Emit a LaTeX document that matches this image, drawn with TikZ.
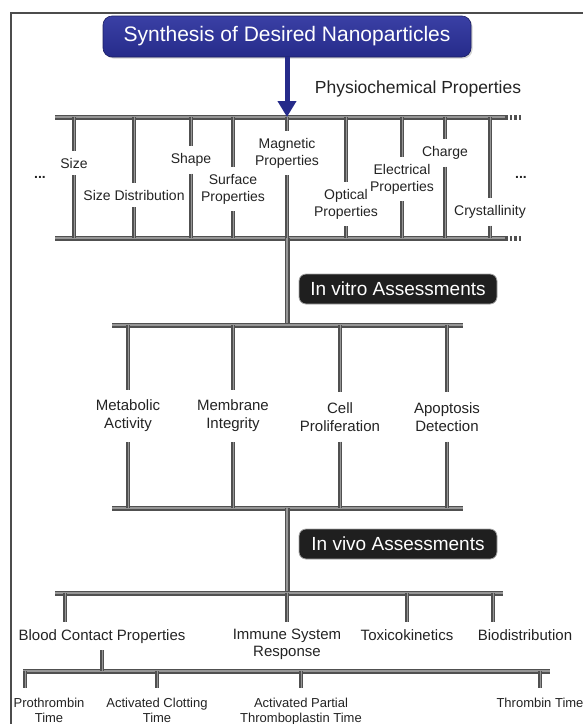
\documentclass[tikz,border=0pt]{standalone}
\usepackage{fontspec}
\setmainfont{Liberation Sans}
\usepackage{xcolor}
\usepackage{tikz}
\usetikzlibrary{arrows.meta, positioning, shadows}

\definecolor{navy}{RGB}{38,43,138}
\definecolor{navylight}{RGB}{58,64,165}
\definecolor{bargray}{RGB}{80,80,80}
\definecolor{barlight}{RGB}{150,150,150}
\definecolor{txtgray}{RGB}{35,35,35}

\begin{document}
\begin{tikzpicture}[x=1pt, y=-1pt, >=Triangle,
    bar/.style={line width=5pt, draw=bargray, postaction={draw=barlight, line width=1.2pt}},
    rung/.style={line width=4pt, draw=bargray, postaction={draw=barlight, line width=1pt}},
    prop/.style={font=\fontsize{14}{17}\selectfont, text=txtgray, align=center, inner xsep=1pt, inner ysep=7pt},
    test/.style={font=\fontsize{15}{18}\selectfont, text=txtgray, align=center, inner ysep=10pt},
    invivo/.style={font=\fontsize{15}{17}\selectfont, text=txtgray, align=center, anchor=north, inner ysep=7pt},
    timelbl/.style={font=\fontsize{13}{14.5}\selectfont, text=txtgray, align=center, anchor=north, inner ysep=10pt},
    stage/.style={fill=black!88, draw=gray!70, line width=0.8pt, rounded corners=7pt, text=white,
        font=\fontsize{19}{22}\selectfont, minimum width=198pt, minimum height=30pt},
    synth/.style={top color=navylight, bottom color=navy, draw=navy!70!black, line width=0.6pt,
        rounded corners=9pt, text=white, font=\fontsize{21}{24}\selectfont,
        minimum width=368pt, minimum height=41pt,
        drop shadow={opacity=0.35, shadow xshift=1.5pt, shadow yshift=-1.5pt}},
    flow/.style={-{Triangle[width=18pt,length=16pt]}, line width=5pt, draw=navy}
]
    \useasboundingbox (0,0) rectangle (583,724);

    % Frame
    \draw[black!70, line width=1.2pt] (11,724) -- (11,13) -- (583,13);

    % Synthesis
    \node[synth] (synth) at (287,36.5) {Synthesis of Desired Nanoparticles};
    \node[font=\fontsize{17.5}{20}\selectfont, text=txtgray] (phys) at (418,89) {Physiochemical Properties};

    % Physiochemical properties
    \coordinate (ptl) at (55,117);
    \coordinate (ptr) at (505,117);
    \coordinate (ptd) at (521,117);
    \coordinate (pbl) at (55,238);
    \coordinate (pbr) at (505,238);
    \coordinate (pbd) at (521,238);
    \draw[bar] (ptl) -- (ptr);
    \draw[bar] (pbl) -- (pbr);
    \draw[line width=5pt, draw=bargray, dash pattern=on 2.5pt off 2pt] (ptr) -- (ptd);
    \draw[line width=5pt, draw=bargray, dash pattern=on 2.5pt off 2pt] (pbr) -- (pbd);
    \draw[flow] (synth.south) -- (synth.south |- ptl);

    \node[prop] (size) at (74,163) {Size};
    \node[prop] (sdist) at (134,195) {Size Distribution};
    \node[prop] (shape) at (191,160) {Shape};
    \node[prop] (surf) at (233,189) {Surface\\Properties};
    \node[prop] (magn) at (287,153) {Magnetic\\Properties};
    \node[prop] (opt) at (346,204) {Optical\\Properties};
    \node[prop] (elec) at (402,179) {Electrical\\Properties};
    \node[prop] (charge) at (445,153) {Charge};
    \node[prop] (cryst) at (490,212) {Crystallinity};
    \node[prop, font=\bfseries\fontsize{14}{17}\selectfont] (ldots) at (40,177) {...};
    \node[prop, font=\bfseries\fontsize{14}{17}\selectfont] (rdots) at (521,177) {...};

    \foreach \n in {size, sdist, shape, surf, magn, opt, elec, charge, cryst} {
        \draw[rung] (\n.north |- ptl) -- (\n.north);
        \draw[rung] (\n.south) -- (\n.south |- pbl);
    }

    % In vitro assessments
    \coordinate (vtl) at (112,325);
    \coordinate (vtr) at (463,325);
    \coordinate (vbl) at (112,508);
    \coordinate (vbr) at (463,508);
    \draw[bar] (magn.south |- pbl) -- (magn.south |- vtl);
    \draw[bar] (vtl) -- (vtr);
    \draw[bar] (vbl) -- (vbr);
    \node[stage] (vitro) at (398,289) {In vitro Assessments};

    \node[test] (metab) at (128,416) {Metabolic\\Activity};
    \node[test] (membr) at (233,416) {Membrane\\Integrity};
    \node[test] (cellp) at (340,417) {Cell\\Proliferation};
    \node[test] (apopt) at (447,417) {Apoptosis\\Detection};

    \foreach \n in {metab, membr, cellp, apopt} {
        \draw[rung] (\n.north |- vtl) -- (\n.north);
        \draw[rung] (\n.south) -- (\n.south |- vbl);
    }

    % In vivo assessments
    \coordinate (ivl) at (55,593);
    \coordinate (ivr) at (503,593);
    \coordinate (brung) at (65,593);
    \coordinate (drung) at (493,593);
    \draw[bar] (magn.south |- vbl) -- (magn.south |- ivl);
    \draw[bar] (ivl) -- (ivr);
    \node[stage] (vivo) at (398,544) {In vivo Assessments};

    \node[invivo] (blood) at (102,622) {Blood Contact Properties};
    \node[invivo] (immune) at (287,622) {Immune System\\Response};
    \node[invivo] (toxic) at (407,622) {Toxicokinetics};
    \node[invivo] (biod) at (525,622) {Biodistribution};

    \draw[rung] (brung) -- (brung |- blood.north);
    \draw[rung] (drung) -- (drung |- biod.north);
    \foreach \n in {immune, toxic}
        \draw[rung] (\n.north |- ivl) -- (\n.north);

    % Blood contact properties
    \coordinate (btl) at (23,671);
    \coordinate (btr) at (550,671);
    \coordinate (prung) at (25,671);
    \draw[bar] (btl) -- (btr);
    \draw[rung] (blood.south) -- (blood.south |- btl);

    \node[timelbl] (pt) at (49,688) {Prothrombin\\Time};
    \node[timelbl] (act) at (157,688) {Activated Clotting\\Time};
    \node[timelbl] (aptt) at (301,688) {Activated Partial\\Thromboplastin Time};
    \node[timelbl] (tt) at (540,688) {Thrombin Time};

    \draw[rung] (prung) -- (prung |- pt.north);
    \foreach \n in {act, aptt, tt}
        \draw[rung] (\n.north |- btl) -- (\n.north);

\end{tikzpicture}
\end{document}
